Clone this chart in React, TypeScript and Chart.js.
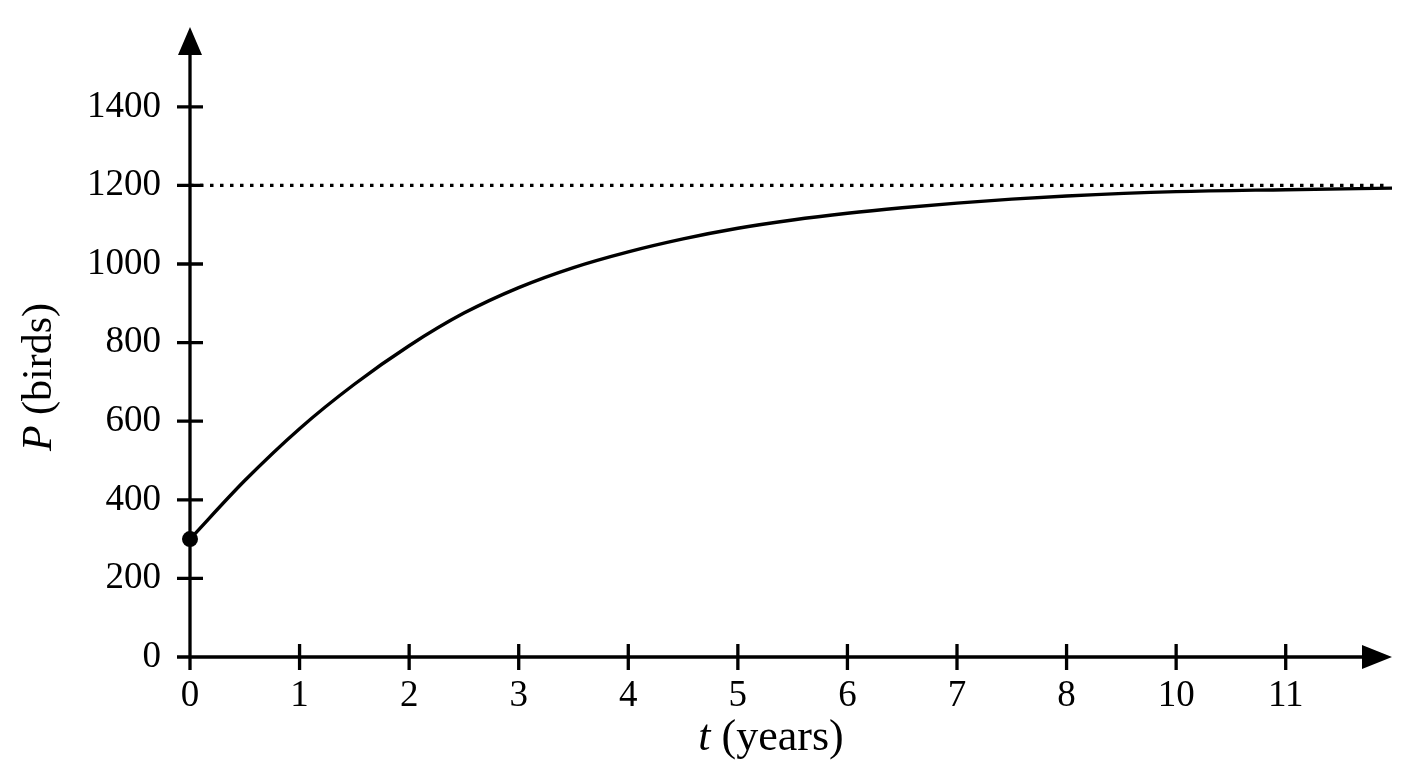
import Chart from 'chart.js/auto'
import { useEffect, useRef } from 'react'

// curve: t (axis position) vs birds
const tYears = [0, 0.5, 1, 1.5, 2, 2.5, 3, 3.5, 4, 4.5, 5, 5.5, 6, 6.5, 7, 7.5, 8, 9, 10, 10.97]
const birds = [300, 449, 581, 694, 792, 875, 940, 991, 1031, 1064, 1091, 1112, 1129, 1143, 1155, 1165, 1173, 1184, 1189, 1193]

// horizontal dotted line
const limitX = [0, 10.93]
const limitY = [1200, 1200]

// tick labels as printed (the 9 is missing in the original)
const xTickLabels = ['0', '1', '2', '3', '4', '5', '6', '7', '8', '10', '11']
const yTicks = [0, 200, 400, 600, 800, 1000, 1200, 1400]

const xMax = 10.97
const yMax = 1603

const FONT = "'Liberation Serif', 'Times New Roman', serif"

const arrowAxes = {
  id: 'arrowAxes',
  beforeDatasetsDraw(chart: any) {
    const { ctx } = chart
    const x = chart.scales.x
    const y = chart.scales.y
    const x0 = x.getPixelForValue(0)
    const y0 = y.getPixelForValue(0)
    const xEnd = x.getPixelForValue(xMax)
    const yEnd = y.getPixelForValue(yMax)

    ctx.save()
    ctx.strokeStyle = '#000'
    ctx.fillStyle = '#000'
    ctx.lineWidth = 3.3
    ctx.beginPath()
    ctx.moveTo(x0, y0)
    ctx.lineTo(xEnd - 20, y0)
    ctx.moveTo(x0, y0 + 1.6)
    ctx.lineTo(x0, yEnd + 20)
    x.ticks.forEach((t: any) => {
      const px = x.getPixelForValue(t.value)
      ctx.moveTo(px, y0 - 13)
      ctx.lineTo(px, y0 + 13)
    })
    y.ticks.forEach((t: any) => {
      const py = y.getPixelForValue(t.value)
      ctx.moveTo(x0 - 13, py)
      ctx.lineTo(x0 + 13, py)
    })
    ctx.stroke()

    // arrow heads
    ctx.beginPath()
    ctx.moveTo(xEnd, y0)
    ctx.lineTo(xEnd - 30, y0 - 12)
    ctx.lineTo(xEnd - 30, y0 + 12)
    ctx.closePath()
    ctx.moveTo(x0, yEnd)
    ctx.lineTo(x0 - 12, yEnd + 28)
    ctx.lineTo(x0 + 12, yEnd + 28)
    ctx.closePath()
    ctx.fill()
    ctx.restore()
  },
  afterDraw(chart: any) {
    const { ctx } = chart
    ctx.save()
    ctx.fillStyle = '#000'
    ctx.textBaseline = 'alphabetic'
    ctx.textAlign = 'left'

    // x title: t (years)
    let italic = `italic 44px ${FONT}`
    let normal = `44px ${FONT}`
    ctx.font = italic
    const wt = ctx.measureText('t').width
    ctx.font = normal
    const wy = ctx.measureText(' (years)').width
    let sx = 771 - (wt + wy) / 2
    ctx.font = italic
    ctx.fillText('t', sx, 750)
    ctx.font = normal
    ctx.fillText(' (years)', sx + wt, 750)

    // y title: P (birds)
    italic = `italic 42px ${FONT}`
    normal = `42px ${FONT}`
    ctx.translate(51, 377)
    ctx.rotate(-Math.PI / 2)
    ctx.font = italic
    const wp = ctx.measureText('P').width
    ctx.font = normal
    const wb = ctx.measureText(' (birds)').width
    sx = -(wp + wb) / 2
    ctx.font = italic
    ctx.fillText('P', sx, 0)
    ctx.font = normal
    ctx.fillText(' (birds)', sx + wp, 0)
    ctx.restore()
  }
}

const BirdChart = () => {
  const canvasRef = useRef<HTMLCanvasElement | null>(null)

  useEffect(() => {
    const ctx = canvasRef.current?.getContext('2d')
    if (!ctx) return

    const chart = new Chart(ctx, {
      type: 'line',
      data: {
        datasets: [
          {
            data: tYears.map((t, i) => ({ x: t, y: birds[i] })),
            borderColor: '#000',
            borderWidth: 3.4,
            cubicInterpolationMode: 'monotone',
            pointRadius: (c: any) => (c.dataIndex === 0 ? 8 : 0),
            pointBackgroundColor: '#000',
            pointBorderWidth: 0,
            clip: false
          },
          {
            data: limitX.map((t, i) => ({ x: t, y: limitY[i] })),
            borderColor: '#000',
            borderWidth: 3.4,
            borderDash: [3.5, 6.5],
            borderCapStyle: 'butt',
            pointRadius: 0,
            clip: false
          }
        ]
      },
      options: {
        animation: false,
        responsive: true,
        maintainAspectRatio: false,
        layout: { padding: { top: 27, right: 16, left: 0, bottom: 0 } },
        plugins: {
          legend: { display: false },
          tooltip: { enabled: false }
        },
        scales: {
          x: {
            type: 'linear',
            min: 0,
            max: xMax,
            grid: { display: false },
            border: { display: false },
            afterBuildTicks: (s: any) => {
              s.ticks = xTickLabels.map((_, i) => ({ value: i }))
            },
            afterFit: (s: any) => {
              s.height = 111
              s.paddingLeft = 0
              s.paddingRight = 0
            },
            ticks: {
              autoSkip: false,
              maxRotation: 0,
              padding: 9,
              color: '#000',
              font: { family: FONT, size: 37 },
              callback: (v: any) => xTickLabels[v]
            }
          },
          y: {
            type: 'linear',
            min: 0,
            max: yMax,
            grid: { display: false },
            border: { display: false },
            afterBuildTicks: (s: any) => {
              s.ticks = yTicks.map((v) => ({ value: v }))
            },
            afterFit: (s: any) => {
              s.width = 190
              s.paddingTop = 0
              s.paddingBottom = 0
            },
            ticks: {
              autoSkip: false,
              padding: 21,
              color: '#000',
              font: { family: FONT, size: 37 },
              callback: (v: any) => String(v)
            }
          }
        }
      },
      plugins: [arrowAxes]
    } as any)

    return () => {
      chart.destroy()
    }
  }, [])

  return (
    <div style={{ position: 'fixed', left: 0, top: 0, width: 1408, height: 768, background: '#fff' }}>
      <canvas ref={canvasRef} />
    </div>
  )
}

export default function App() {
  return <BirdChart />
}
